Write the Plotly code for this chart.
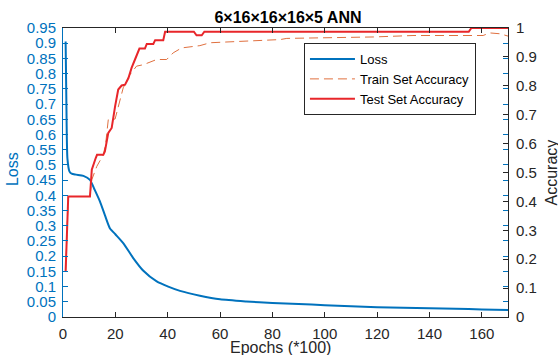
import plotly.graph_objects as go

# ---- data ----
loss_epochs = [1, 1.3, 1.7, 2.5, 3.3, 5, 7.8, 10.3, 12, 14.1, 16, 17.9, 20, 23, 26.9,
               30.7, 35.8, 40.2, 44.7, 52.3, 60, 70, 80, 90, 100, 110, 120, 130, 140,
               150, 160, 170]
loss_values = [0.906, 0.70, 0.52, 0.478, 0.471, 0.468, 0.464, 0.451, 0.42, 0.380, 0.335,
               0.292, 0.272, 0.243, 0.193, 0.152, 0.117, 0.100, 0.086, 0.070, 0.058,
               0.051, 0.046, 0.043, 0.039, 0.035, 0.032, 0.030, 0.029, 0.027, 0.025,
               0.023]

train_epochs = [1, 2, 10.3, 11, 12.9, 14.1, 15.4, 16.3, 17.3, 19.9, 21.8, 23, 25.6, 28.1,
                30.7, 32.6, 35.8, 39.6, 42.1, 45.3, 49.8, 52.3, 56.2, 70.2, 83, 85.5,
                118.6, 133.7, 160.5, 163, 167, 170]
train_acc = [0.157, 0.417, 0.417, 0.475, 0.521, 0.541, 0.561, 0.60, 0.683, 0.685, 0.752,
             0.793, 0.839, 0.868, 0.873, 0.879, 0.891, 0.891, 0.914, 0.931, 0.937, 0.939,
             0.949, 0.954, 0.960, 0.964, 0.969, 0.974, 0.974, 0.983, 0.980, 0.972]

test_epochs = [1, 2, 10.3, 11, 12.5, 13, 15.4, 16, 17.3, 18.6, 19.9, 21.1, 22.4, 23.7, 25,
               26.2, 27.5, 29.2, 31.3, 32, 34.5, 35.2, 38.3, 39, 50, 51, 53, 54, 155, 156,
               170]
test_acc = [0.157, 0.417, 0.417, 0.51, 0.55, 0.561, 0.561, 0.573, 0.637, 0.654, 0.729,
            0.787, 0.801, 0.804, 0.827, 0.862, 0.891, 0.929, 0.929, 0.945, 0.945, 0.958,
            0.958, 0.987, 0.987, 0.975, 0.975, 0.987, 0.987, 1.0, 1.0]

x_ticks = [0, 20, 40, 60, 80, 100, 120, 140, 160]
loss_ticks = [round(i * 0.05, 2) for i in range(20)]
loss_tick_text = ["0" if v == 0 else f"{v:g}" for v in loss_ticks]
acc_ticks = [round(i * 0.1, 1) for i in range(11)]
acc_tick_text = ["0" if v == 0 else ("1" if v == 1 else f"{v:g}") for v in acc_ticks]

BLUE = "#0072BD"
ORANGE = "#E0703F"
RED = "#E8262A"
DARK = "#262626"
FONT = "Liberation Sans, Arial, sans-serif"
TICK = 15

fig = go.Figure()
fig.add_trace(go.Scatter(x=loss_epochs, y=loss_values, mode="lines", name="Loss",
                         line=dict(color=BLUE, width=2, shape="spline", smoothing=0.6),
                         yaxis="y"))
fig.add_trace(go.Scatter(x=train_epochs, y=train_acc, mode="lines", name="Train Set Accuracy",
                         line=dict(color=ORANGE, width=1, dash="9px,5px"), yaxis="y2"))
fig.add_trace(go.Scatter(x=test_epochs, y=test_acc, mode="lines", name="Test Set Accuracy",
                         line=dict(color=RED, width=2), yaxis="y2"))

fig.update_layout(
    width=558, height=355,
    margin=dict(l=63, r=50, t=28, b=38, autoexpand=False),
    paper_bgcolor="white", plot_bgcolor="white",
    font=dict(family=FONT, size=TICK, color=DARK),
    title=dict(text="<b>6×16×16×16×5 ANN</b>", x=288 / 558, xanchor="center",
               y=1 - 17 / 355, yanchor="middle", yref="container",
               font=dict(size=16, color="#000000", family=FONT)),
    xaxis=dict(range=[0, 170], tickvals=x_ticks, ticks="inside", ticklen=5,
               tickcolor=DARK, showline=True, linecolor=DARK, linewidth=1,
               mirror="ticks", showgrid=False, zeroline=False, automargin=False,
               tickfont=dict(size=TICK, color=DARK), ticklabelstandoff=3),
    yaxis=dict(range=[0, 0.95], tickvals=loss_ticks, ticktext=loss_tick_text,
               ticks="inside", ticklen=5, tickcolor=BLUE, showline=True,
               linecolor=BLUE, linewidth=1, mirror="ticks", showgrid=False,
               zeroline=False, automargin=False, tickfont=dict(size=TICK, color=BLUE),
               ticklabelstandoff=3),
    yaxis2=dict(range=[0, 1], tickvals=acc_ticks, ticktext=acc_tick_text,
                overlaying="y", side="right", ticks="inside", ticklen=5,
                tickcolor=DARK, showline=True, linecolor=DARK, linewidth=1,
                showgrid=False, zeroline=False, automargin=False,
                tickfont=dict(size=TICK, color=DARK), ticklabelstandoff=4),
    legend=dict(x=0.928, xanchor="right", y=0.948, yanchor="top",
                bgcolor="white", bordercolor=DARK, borderwidth=1,
                font=dict(size=13, color="#000000", family=FONT),
                itemwidth=45, tracegroupgap=0),
    showlegend=True,
    annotations=[
        dict(text="Epochs (*100)", xref="paper", yref="paper", x=(280 - 63) / 445,
             y=-(347.5 - 317) / 289, xanchor="center", yanchor="middle", showarrow=False,
             font=dict(size=16, color=DARK)),
        dict(text="Loss", xref="paper", yref="paper", x=-(63 - 12.5) / 445, y=0.51,
             xanchor="center", yanchor="middle", showarrow=False, textangle=-90,
             font=dict(size=16, color=BLUE)),
        dict(text="Accuracy", xref="paper", yref="paper", x=1 + (551 - 508) / 445, y=0.5,
             xanchor="center", yanchor="middle", showarrow=False, textangle=-90,
             font=dict(size=16, color=DARK)),
    ],
)

fig.write_html("out.html", config={"displayModeBar": False},
               post_script="document.body.style.margin='0';document.body.style.overflow='hidden';")
